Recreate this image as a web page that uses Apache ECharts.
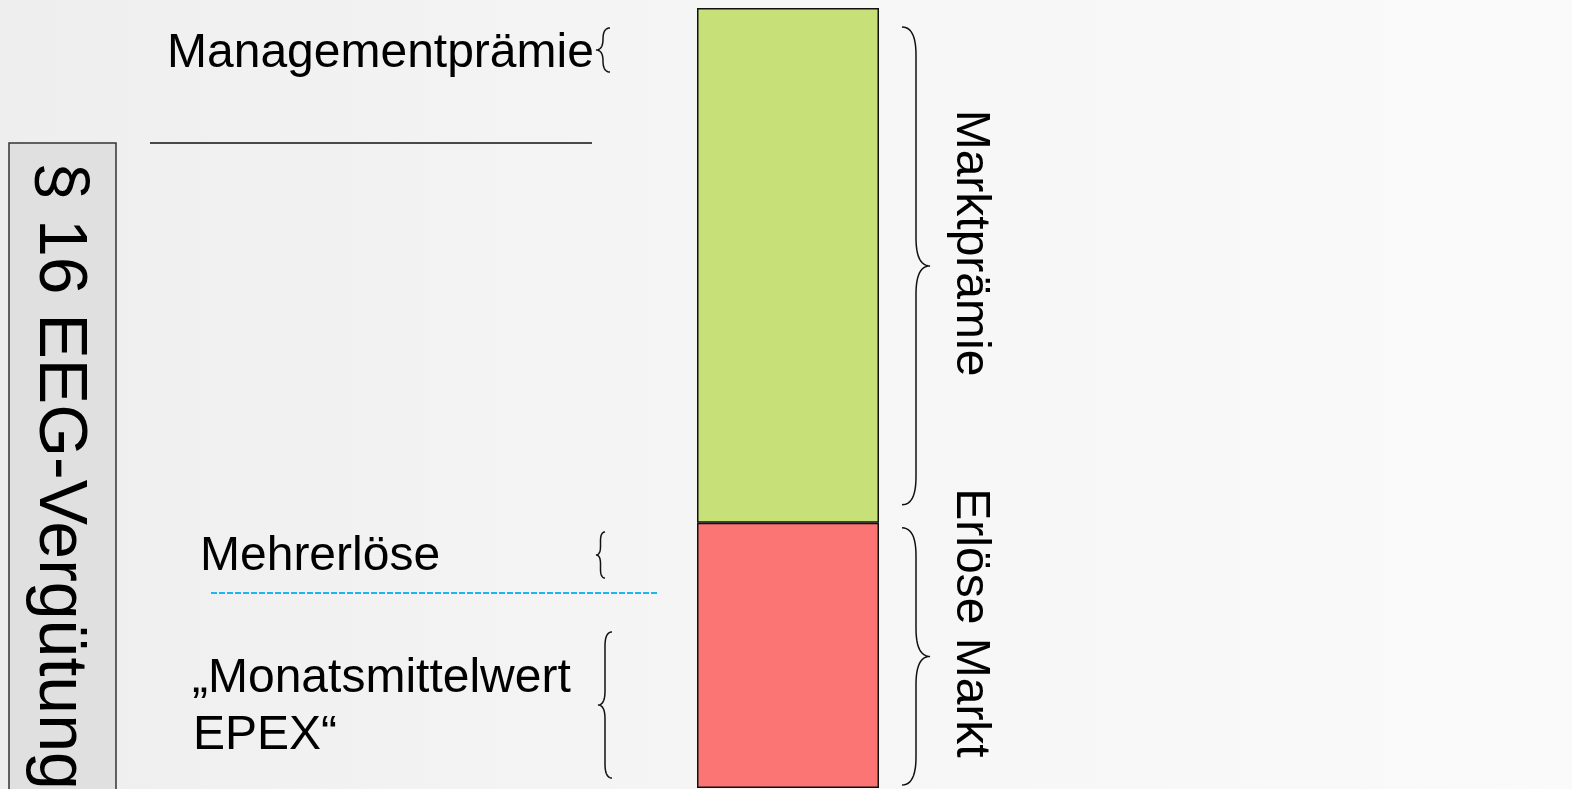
<!DOCTYPE html>
<html>
<head>
<meta charset="utf-8">
<title>EEG-Vergütung</title>
<script src="https://cdn.jsdelivr.net/npm/echarts@6/dist/echarts.min.js"></script>
<style>
  html, body { margin: 0; padding: 0; }
  #chart { width: 1572px; height: 789px; }
</style>
</head>
<body>
<div id="chart"></div>
<script>
//////////////////////
// data
//////////////////////
const categories = ['EEG-Vergütung'];
const erloeseMarkt = [34];      // roter Teil (unten)
const marktpraemie = [66];      // grüner Teil (oben)
const axisMax = 100;

const sideLabels = ['Marktprämie', 'Erlöse Markt'];
const boxLabel = '§ 16 EEG-Vergütung';

const FONT = '"Liberation Sans", Arial, sans-serif';

const chart = echarts.init(document.getElementById('chart'));

const option = {
    animation: false,
    backgroundColor: {
        type: 'linear', x: 0, y: 0, x2: 1, y2: 0,
        colorStops: [
            { offset: 0, color: '#eeeeee' },
            { offset: 0.5, color: '#f6f6f6' },
            { offset: 1, color: '#fafafa' }
        ]
    },
    grid: {
        left: 697,
        right: 693,
        top: 8,
        bottom: 1
    },
    xAxis: {
        type: 'category',
        data: categories,
        show: false
    },
    yAxis: {
        type: 'value',
        min: 0,
        max: axisMax,
        show: false
    },
    series: [
        {
            name: 'Erlöse Markt',
            type: 'bar',
            stack: 'total',
            barWidth: '100%',
            data: erloeseMarkt,
            itemStyle: { color: '#fc7575', borderColor: '#111', borderWidth: 1.5 }
        },
        {
            name: 'Marktprämie',
            type: 'bar',
            stack: 'total',
            barWidth: '100%',
            data: marktpraemie,
            itemStyle: { color: '#c7e077', borderColor: '#111', borderWidth: 1.5 }
        }
    ]
};
chart.setOption(option);

// quadratische Bezierkurve abtasten
function quad(p0, c, p1, pts) {
    for (let i = 1; i <= 12; i++) {
        const t = i / 12;
        const a = (1 - t) * (1 - t), b = 2 * (1 - t) * t, d = t * t;
        pts.push([a * p0[0] + b * c[0] + d * p1[0], a * p0[1] + b * c[1] + d * p1[1]]);
    }
}

// geschweifte Klammer, spitze zeigt nach rechts ('}') oder links ('{')
function brace(x, y1, y2, w, dir) {
    const ym = (y1 + y2) / 2;
    const r = Math.min(w, (y2 - y1) / 4);
    const s = dir === 'right' ? 1 : -1;
    const xm = x + s * w / 2;
    const xt = x + s * w;
    const pts = [[x, y1]];
    quad([x, y1], [xm, y1], [xm, y1 + r], pts);
    pts.push([xm, ym - r]);
    quad([xm, ym - r], [xm, ym], [xt, ym], pts);
    quad([xt, ym], [xm, ym], [xm, ym + r], pts);
    pts.push([xm, y2 - r]);
    quad([xm, y2 - r], [xm, y2], [x, y2], pts);
    return {
        type: 'polyline',
        shape: { points: pts },
        style: { fill: null, stroke: '#111', lineWidth: 1.5 }
    };
}

function text(str, x, y, size, rot, align) {
    return {
        type: 'text',
        x: x,
        y: y,
        rotation: rot || 0,
        style: {
            text: str,
            font: size + 'px ' + FONT,
            fill: '#000',
            align: align || 'left',
            verticalAlign: 'middle'
        }
    };
}

// Pixelpositionen aus den Daten
const yBottom = chart.convertToPixel({ gridIndex: 0 }, [0, 0])[1];
const ySplit = chart.convertToPixel({ gridIndex: 0 }, [0, erloeseMarkt[0]])[1];
const yTop = chart.convertToPixel({ gridIndex: 0 }, [0, erloeseMarkt[0] + marktpraemie[0]])[1];

const graphics = [
    // linker Kasten
    {
        type: 'rect',
        shape: { x: 9, y: 143, width: 107, height: 660 },
        style: { fill: '#e0e0e0', stroke: '#333', lineWidth: 1.5 }
    },
    text(boxLabel, 59, 476, 68, -Math.PI / 2, 'center'),

    // linke Beschriftungen
    text('Managementprämie', 167, 54, 48),
    brace(610, 28, 72, 14, 'left'),
    {
        type: 'line',
        shape: { x1: 150, y1: 143, x2: 592, y2: 143 },
        style: { stroke: '#111', lineWidth: 1.5 }
    },
    text('Mehrerlöse', 200, 557, 48),
    brace(605, 532, 578, 9, 'left'),
    {
        type: 'line',
        shape: { x1: 211, y1: 593, x2: 658, y2: 593 },
        style: { stroke: '#1ab6ef', lineWidth: 2, lineDash: [6, 2] }
    },
    text('„Monatsmittelwert', 192, 679, 48),
    text('EPEX“', 193, 736, 48),
    brace(612, 632, 778, 14, 'left'),

    // rechte Klammern
    brace(902, yTop + 19, ySplit - 18, 28, 'right'),
    brace(902, ySplit + 5, yBottom - 3, 28, 'right'),
    text(sideLabels[0], 970, 243, 48, -Math.PI / 2, 'center'),
    text(sideLabels[1], 970, 623, 48, -Math.PI / 2, 'center')
];

chart.setOption({ graphic: graphics });
</script>
</body>
</html>
